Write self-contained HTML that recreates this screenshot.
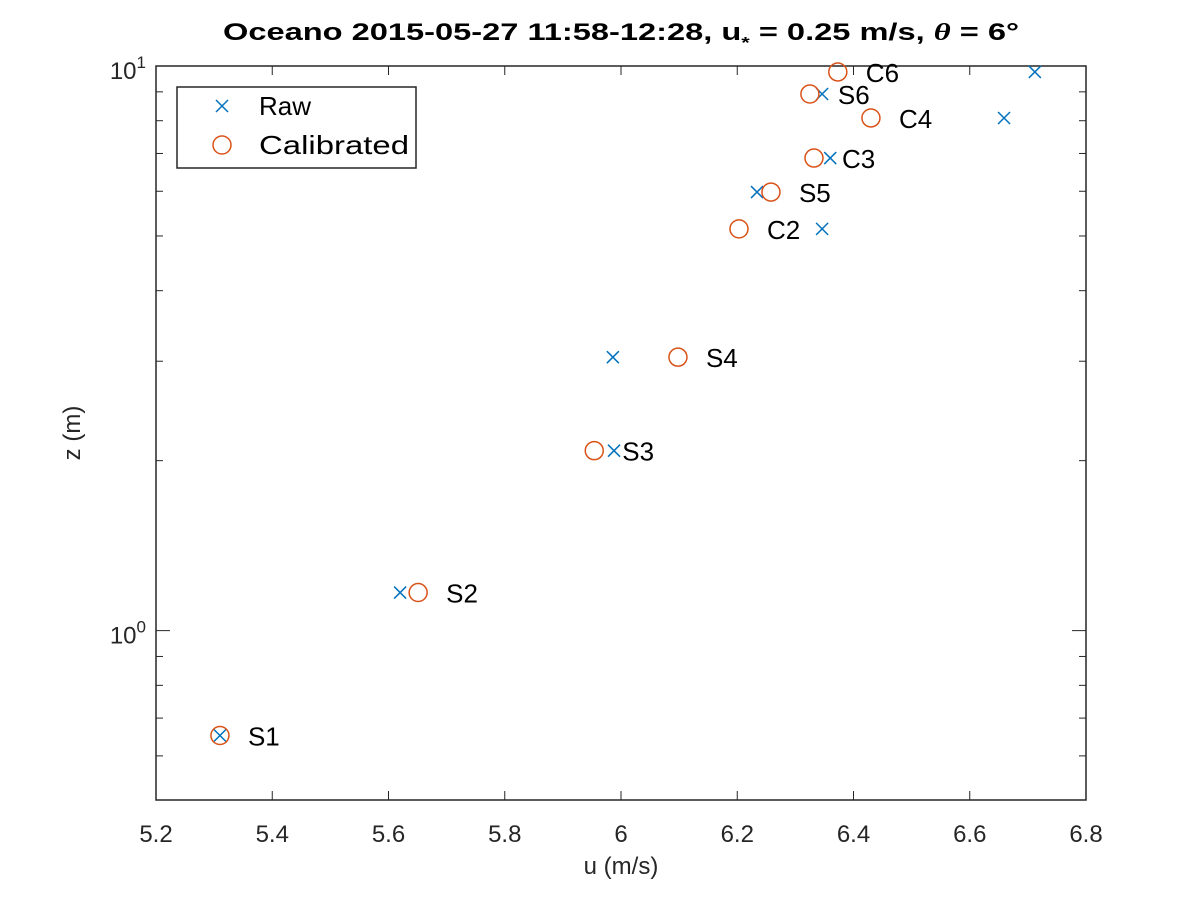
<!DOCTYPE html>
<html><head><meta charset="utf-8"><style>
body{margin:0;background:#fff;font-family:"Liberation Sans",sans-serif}
svg text{font-family:"Liberation Sans",sans-serif}
</style></head><body>
<svg id="chart" width="1200" height="900" xmlns="http://www.w3.org/2000/svg">
<rect width="1200" height="900" fill="#fff"/>
<text x="621" y="40" text-anchor="middle" font-size="24" font-weight="bold" fill="#000" textLength="796" lengthAdjust="spacingAndGlyphs">Oceano 2015-05-27 11:58-12:28, u<tspan font-size="16" dy="8">*</tspan><tspan dy="-8"> = 0.25 m/s, </tspan><tspan font-family="Liberation Serif" font-style="italic">θ</tspan> = 6°</text>
<g id="plot"></g>
<text x="621" y="874" text-anchor="middle" font-size="24" fill="#262626">u (m/s)</text>
<text transform="translate(80,433) rotate(-90)" text-anchor="middle" font-size="24" fill="#262626">z (m)</text>
<g>
<rect x="177" y="87" width="239" height="81" fill="#fff" stroke="#262626" stroke-width="1.5"/>
<path d="M216 100 L228 112 M228 100 L216 112" stroke="#0072BD" stroke-width="1.5"/>
<text x="259" y="115" font-size="26" fill="#000">Raw</text>
<circle cx="222" cy="145" r="9" fill="none" stroke="#D95319" stroke-width="1.5"/>
<text x="259" y="154" font-size="26" fill="#000" textLength="150" lengthAdjust="spacingAndGlyphs">Calibrated</text>
</g>
</svg>
<script>
const labels=["S1","S2","S3","S4","C2","S5","C3","C4","S6","C6"];
const zVals=[0.652,1.168,2.083,3.05,5.147,5.98,6.87,8.09,8.92,9.76];
const rawU=[5.31,5.62,5.988,5.986,6.346,6.234,6.36,6.659,6.346,6.712];
const calU=[5.31,5.651,5.954,6.098,6.203,6.258,6.332,6.43,6.325,6.373];
const xTicks=[5.2,5.4,5.6,5.8,6,6.2,6.4,6.6,6.8];
const xTickLabels=["5.2","5.4","5.6","5.8","6","6.2","6.4","6.6","6.8"];
const yMinor=[0.6,0.7,0.8,0.9,2,3,4,5,6,7,8,9];
const L=156,R=1086,T=66,B=800;
const xMin=5.2,xMax=6.8,yMin=Math.log10(0.5012),yMax=1;
const sx=u=>L+(u-xMin)/(xMax-xMin)*(R-L);
const sy=z=>B-(Math.log10(z)-yMin)/(yMax-yMin)*(B-T);
const NS="http://www.w3.org/2000/svg";
const g=document.getElementById('plot');
function mk(t,a){const e=document.createElementNS(NS,t);for(const k in a)e.setAttribute(k,a[k]);g.appendChild(e);return e;}
let e=mk('rect',{x:L,y:T,width:R-L,height:B-T,fill:'#fff',stroke:'#262626','stroke-width':1.5});


xTicks.forEach((v,i)=>{const x=sx(v);
 mk('line',{x1:x,x2:x,y1:B,y2:B-9,stroke:'#262626','stroke-width':1});
 mk('line',{x1:x,x2:x,y1:T,y2:T+9,stroke:'#262626','stroke-width':1});
 const t=mk('text',{x:x,y:B+42,'text-anchor':'middle','font-size':24,fill:'#262626'});t.textContent=xTickLabels[i];
 
 
});
[1,10].forEach(v=>{const y=sy(v);
 mk('line',{x1:L,x2:L+14,y1:y,y2:y,stroke:'#262626'});
 mk('line',{x1:R,x2:R-14,y1:y,y2:y,stroke:'#262626'});
 const t=mk('text',{x:L-10,y:y+13,'text-anchor':'end','font-size':24,fill:'#262626'});
 t.innerHTML='10<tspan font-size="17" dy="-11">'+(v===1?'0':'1')+'</tspan>';
 
 
});
yMinor.forEach(v=>{const y=sy(v);
 mk('line',{x1:L,x2:L+7,y1:y,y2:y,stroke:'#262626'});
 mk('line',{x1:R,x2:R-7,y1:y,y2:y,stroke:'#262626'});
});
labels.forEach((lab,i)=>{
 const y=sy(zVals[i]);const xr=sx(rawU[i]),xc=sx(calU[i]);
 const p=mk('path',{d:`M${xr-6} ${y-6}L${xr+6} ${y+6}M${xr+6} ${y-6}L${xr-6} ${y+6}`,stroke:'#0072BD','stroke-width':1.5,fill:'none'});
 
 
 const c=mk('circle',{cx:xc,cy:y,r:9,fill:'none',stroke:'#D95319','stroke-width':1.5});
 
 
 const t=mk('text',{x:xc+28,y:y+10,'font-size':26,fill:'#000'});t.textContent=lab;
 
 
});
</script>
</body></html>
